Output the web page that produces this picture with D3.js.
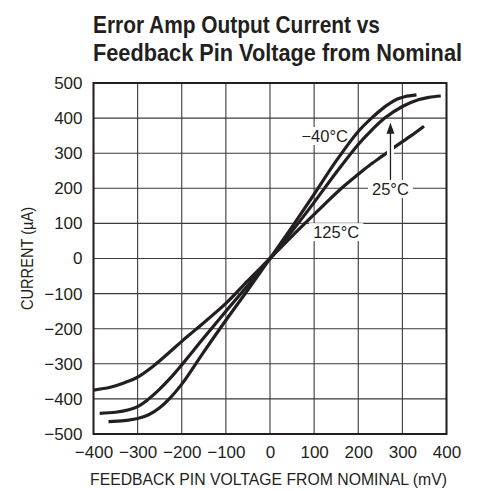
<!DOCTYPE html>
<html>
<head>
<meta charset="utf-8">
<script src="https://cdn.jsdelivr.net/npm/d3@7"></script>
<style>
	body { margin: 0; background: #fff; }
	text { font-family: "Liberation Sans", Arial, Helvetica, sans-serif; fill: #231f20; }
</style>
</head>
<body>
<svg id="chart" width="479" height="491"></svg>
<script>
// axis ticks
const xTicks = [-400, -300, -200, -100, 0, 100, 200, 300, 400];
const yTicks = [-500, -400, -300, -200, -100, 0, 100, 200, 300, 400, 500];

// curves (mV, uA)
const minus40_mV = [-366, -330, -300, -275, -250, -226, -200, -150, -100, -50, 0, 50, 100, 150, 200, 230, 260, 275, 290, 305, 332];
const minus40_uA = [-465, -462, -456, -445, -425, -397, -358, -266, -176, -89, 0, 90, 183, 278, 362, 400, 432, 445, 455, 461, 466];

const t25_mV = [-386, -350, -320, -300, -280, -250, -226, -200, -150, -100, -50, 0, 50, 100, 150, 200, 230, 260, 300, 336, 360, 387];
const t25_uA = [-441, -438, -431, -422, -405, -372, -341, -303, -226, -150, -76, 0, 78, 160, 245, 325, 365, 400, 433, 452, 459, 463];

const t125_mV = [-400, -362, -330, -300, -264, -226, -200, -170, -100, -50, 0, 50, 79, 120, 162, 200, 225, 256, 283, 320, 349];
const t125_uA = [-375, -367, -354, -338, -306, -265, -236, -204, -128, -63, 0, 64, 100, 150, 200, 240, 265, 293, 318, 350, 377];

// curve labels, placed in data units (centre x, baseline y)
const labelText = ['\u221240°C', '25°C', '125°C'];
const labelX = [124, 273, 150];
const labelY = [332, 181, 58];

// arrow from the 25°C label up to its curve
const arrowX = 273;
const arrowFrom = 224;
const arrowTo = 387;

const svg = d3.select('#chart');

const x = d3.scaleLinear().domain([-400, 400]).range([93.5, 446.5]);
const y = d3.scaleLinear().domain([-500, 500]).range([434, 83]);

// title, condensed bold like the datasheet
const title = svg.append('g').attr('class', 'title');
[['Error Amp Output Current vs', 33, 287], ['Feedback Pin Voltage from Nominal', 61, 369]].forEach(function(t) {
	title.append('text')
		.attr('x', 93)
		.attr('y', t[1])
		.attr('font-size', 24)
		.attr('font-weight', 'bold')
		.attr('font-family', '"Liberation Sans Narrow", "DejaVu Sans Condensed", "Liberation Sans", sans-serif')
		.attr('textLength', t[2])
		.attr('lengthAdjust', 'spacingAndGlyphs')
		.text(t[0]);
});

// grid
const grid = svg.append('g').attr('class', 'grid');
grid.selectAll('line.v')
	.data(xTicks)
	.enter().append('line')
	.attr('x1', d => x(d)).attr('x2', d => x(d))
	.attr('y1', y(-500)).attr('y2', y(500))
	.attr('stroke', '#3a3a3a').attr('stroke-width', 1.1);
grid.selectAll('line.h')
	.data(yTicks)
	.enter().append('line')
	.attr('y1', d => y(d)).attr('y2', d => y(d))
	.attr('x1', x(-400)).attr('x2', x(400))
	.attr('stroke', '#3a3a3a').attr('stroke-width', 1.1);

// axes (labels only, the frame is drawn below)
const xAxis = d3.axisBottom(x).tickValues(xTicks).tickSize(0).tickPadding(12)
	.tickFormat(d => d < 0 ? '\u2212' + Math.abs(d) : d);
const yAxis = d3.axisLeft(y).tickValues(yTicks).tickSize(0).tickPadding(11)
	.tickFormat(d => d < 0 ? '\u2212' + Math.abs(d) : d);

const gx = svg.append('g').attr('transform', 'translate(0,' + y(-500) + ')').call(xAxis);
const gy = svg.append('g').attr('transform', 'translate(' + x(-400) + ',0)').call(yAxis);
[gx, gy].forEach(function(g) {
	g.select('.domain').remove();
	g.selectAll('text')
		.attr('font-size', 17)
		.attr('font-family', '"Liberation Sans", Arial, sans-serif')
		.attr('fill', '#231f20');
});

// axis titles
svg.append('text')
	.attr('x', 90)
	.attr('y', 485)
	.attr('font-size', 16)
	.attr('font-family', '"Liberation Sans Narrow", "Liberation Sans", sans-serif')
	.attr('textLength', 357)
	.attr('lengthAdjust', 'spacingAndGlyphs')
	.text('FEEDBACK PIN VOLTAGE FROM NOMINAL (mV)');

svg.append('text')
	.attr('transform', 'translate(33,' + y(0) + ') rotate(-90)')
	.attr('text-anchor', 'middle')
	.attr('font-size', 16)
	.attr('font-family', '"Liberation Sans Narrow", "Liberation Sans", sans-serif')
	.attr('textLength', 103)
	.attr('lengthAdjust', 'spacingAndGlyphs')
	.text('CURRENT (\u00b5A)');

// curve labels with white backing that breaks the grid
const labels = svg.append('g').attr('class', 'labels');
labelText.forEach(function(t, i) {
	const g = labels.append('g');
	const txt = g.append('text')
		.attr('x', x(labelX[i]))
		.attr('y', y(labelY[i]))
		.attr('text-anchor', 'middle')
		.attr('font-size', 16.5)
		.text(t);
	const b = txt.node().getBBox();
	g.insert('rect', 'text')
		.attr('x', b.x - 4).attr('y', b.y)
		.attr('width', b.width + 8).attr('height', b.height)
		.attr('fill', '#fff');
});

// curves
const line = d3.line()
	.x(d => x(d[0]))
	.y(d => y(d[1]))
	.curve(d3.curveCatmullRom.alpha(0.5));

const series = [
	d3.zip(minus40_mV, minus40_uA),
	d3.zip(t25_mV, t25_uA),
	d3.zip(t125_mV, t125_uA)
];

svg.append('g').attr('class', 'curves')
	.selectAll('path')
	.data(series)
	.enter().append('path')
	.attr('d', line)
	.attr('fill', 'none')
	.attr('stroke', '#231f20')
	.attr('stroke-width', 3.2)
	.attr('stroke-linecap', 'butt');

// arrow, with a white gap where it crosses the 125°C curve
const arrow = svg.append('g').attr('class', 'arrow');
arrow.append('line')
	.attr('x1', x(arrowX)).attr('x2', x(arrowX))
	.attr('y1', y(arrowFrom + 30)).attr('y2', y(arrowTo - 50))
	.attr('stroke', '#fff').attr('stroke-width', 7);
arrow.append('line')
	.attr('x1', x(arrowX)).attr('x2', x(arrowX))
	.attr('y1', y(arrowFrom)).attr('y2', y(arrowTo) + 8)
	.attr('stroke', '#231f20').attr('stroke-width', 1.3);
arrow.append('path')
	.attr('d', d3.line()([
		[x(arrowX), y(arrowTo)],
		[x(arrowX) - 4, y(arrowTo) + 11],
		[x(arrowX) + 4, y(arrowTo) + 11]
	]) + 'Z')
	.attr('fill', '#231f20');

// frame
svg.append('rect')
	.attr('x', x(-400)).attr('y', y(500))
	.attr('width', x(400) - x(-400)).attr('height', y(-500) - y(500))
	.attr('fill', 'none')
	.attr('stroke', '#231f20')
	.attr('stroke-width', 2);
</script>
</body>
</html>
